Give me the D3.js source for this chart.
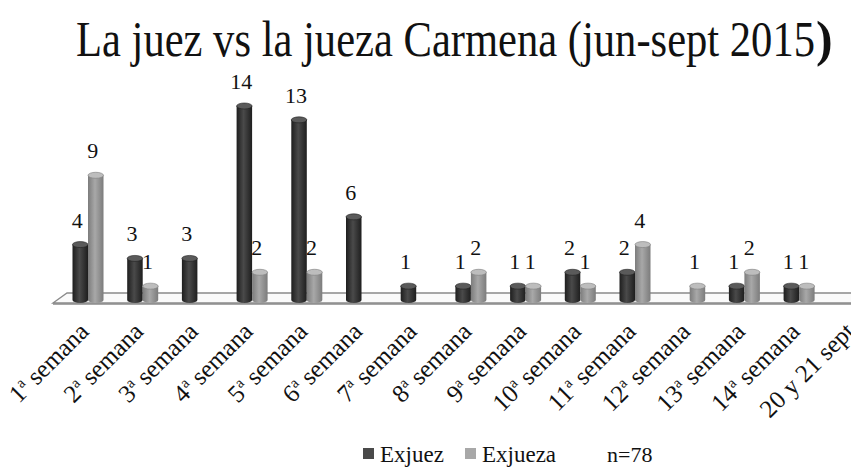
<!DOCTYPE html>
<html>
<head>
<meta charset="utf-8">
<script src="https://cdn.jsdelivr.net/npm/d3@7"></script>
<style>
  body { margin: 0; background: #fff; }
</style>
</head>
<body>
<svg id="chart" width="851" height="467"></svg>
<script>
// categories and values
var weeks = ["1", "2", "3", "4", "5", "6", "7", "8", "9", "10", "11", "12", "13", "14", "20 y 21 sept"];
var exjuez  = [4, 3, 3, 14, 13, 6, 1, 1, 1, 2, 2, 0, 1, 1, 0];
var exjueza = [9, 1, 0, 2, 2, 0, 0, 2, 1, 1, 4, 1, 2, 1, 0];
var seriesNames = ["Exjuez", "Exjueza"];
var seriesColors = {Exjuez: ["#1e1e1e", "#4a4a4a", "#5a5a5a"], Exjueza: ["#7c7c7c", "#a8a8a8", "#bdbdbd"]};
var serif = "'Liberation Serif', 'Times New Roman', Times, serif";

var svg = d3.select("#chart")
  .attr("font-family", serif);
var defs = svg.append("defs");

seriesNames.forEach(function(s, i) {
  var c = seriesColors[s];
  var g = defs.append("linearGradient").attr("id", "grad" + i)
    .attr("x1", "0%").attr("x2", "100%").attr("y1", "0%").attr("y2", "0%");
  g.append("stop").attr("offset", "0%").attr("stop-color", c[0]);
  g.append("stop").attr("offset", "45%").attr("stop-color", c[1]);
  g.append("stop").attr("offset", "100%").attr("stop-color", c[0]);
});

// scales
var step = 54.7;
var x = d3.scaleBand().domain(d3.range(weeks.length))
  .range([88 - step / 2, 88 + (weeks.length - 0.5) * step]).padding(0);
var xs = d3.scaleBand().domain(seriesNames).range([-15.5, 15.5]);
var y = d3.scaleLinear().domain([0, 14]).range([297, 103]);

// title (closing paren is bold in the original)
svg.append("text")
  .attr("x", 76).attr("y", 56)
  .attr("font-family", serif)
  .attr("font-size", 50).attr("fill", "#111")
  .attr("textLength", 739).attr("lengthAdjust", "spacingAndGlyphs")
  .text("La juez vs la jueza Carmena (jun-sept 2015");
svg.append("text")
  .attr("x", 816).attr("y", 56)
  .attr("font-family", serif)
  .attr("font-size", 50).attr("font-weight", "bold").attr("fill", "#111")
  .text(")");

// floor
var fl = 53, fr = 851;
svg.append("path")
  .attr("d", "M" + fl + ",303 L" + (fl + 14) + ",293 L" + (fr + 5) + ",293 L" + (fr + 5) + ",303 Z")
  .attr("fill", "#fafafa").attr("stroke", "#8a8a8a").attr("stroke-width", 1.3);
svg.append("line")
  .attr("x1", fl).attr("x2", fr).attr("y1", 304).attr("y2", 304)
  .attr("stroke", "#8a8a8a").attr("stroke-width", 1.6);

// bars as cylinders
var ry = 3;
var rows = [];
weeks.forEach(function(w, i) {
  rows.push({i: i, s: "Exjuez", k: 0, v: exjuez[i]});
  rows.push({i: i, s: "Exjueza", k: 1, v: exjueza[i]});
});
var bars = rows.filter(function(d) { return d.v > 0; });

var cyl = svg.append("g").selectAll("g").data(bars).enter().append("g");
cyl.append("path")
  .attr("d", function(d) {
    var x0 = x(d.i) + x.bandwidth() / 2 + xs(d.s), w = xs.bandwidth();
    var yt = y(d.v) + ry, yb = y(0) + ry;
    return "M" + x0 + "," + yt + " L" + x0 + "," + yb +
      " A" + (w / 2) + "," + ry + " 0 0 0 " + (x0 + w) + "," + yb +
      " L" + (x0 + w) + "," + yt + " Z";
  })
  .attr("fill", function(d) { return "url(#grad" + d.k + ")"; });
cyl.append("ellipse")
  .attr("cx", function(d) { return x(d.i) + x.bandwidth() / 2 + xs(d.s) + xs.bandwidth() / 2; })
  .attr("cy", function(d) { return y(d.v) + ry; })
  .attr("rx", xs.bandwidth() / 2).attr("ry", ry)
  .attr("fill", function(d) { return seriesColors[d.s][2]; })
  .attr("stroke", function(d) { return seriesColors[d.s][0]; })
  .attr("stroke-width", 0.6);

// value labels
svg.append("g").selectAll("text").data(bars).enter().append("text")
  .attr("x", function(d) { return x(d.i) + x.bandwidth() / 2 + xs(d.s) + xs.bandwidth() / 2 - 3; })
  .attr("y", function(d) { return y(d.v) - 14; })
  .attr("text-anchor", "middle")
  .attr("font-family", serif)
  .attr("font-size", 22).attr("fill", "#111")
  .text(function(d) { return d.v; });

// category labels, rotated
var lab = svg.append("g").selectAll("text").data(weeks).enter().append("text")
  .attr("text-anchor", "end")
  .attr("font-family", serif)
  .attr("font-size", 25).attr("fill", "#111")
  .attr("transform", function(d, i) {
    return "translate(" + (x(i) + x.bandwidth() / 2 + 2) + ",333) rotate(-45)";
  });
lab.each(function(d) {
  var t = d3.select(this);
  if (d.indexOf("sept") >= 0) { t.text(d); return; }
  t.append("tspan").text(d);
  t.append("tspan").attr("font-size", 15).attr("dy", -9).text("a");
  t.append("tspan").attr("dy", 9).text(" semana");
});

// legend
var leg = svg.append("g").attr("transform", "translate(363,462)");
var legX = [0, 102];
seriesNames.forEach(function(s, i) {
  leg.append("rect").attr("x", legX[i]).attr("y", -14).attr("width", 11).attr("height", 11)
    .attr("fill", seriesColors[s][1]);
  leg.append("text").attr("x", legX[i] + 17).attr("y", 0)
    .attr("font-family", serif).attr("font-size", 23).attr("fill", "#111").text(s);
});
leg.append("text").attr("x", 244).attr("y", 0)
  .attr("font-family", serif).attr("font-size", 22).attr("fill", "#111").text("n=78");
</script>
</body>
</html>
